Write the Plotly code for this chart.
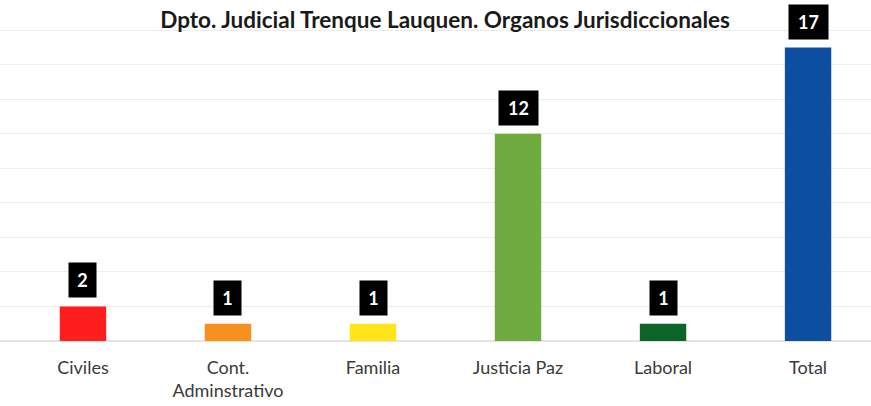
import plotly.graph_objects as go

categories = ["Civiles", "Cont.<br>Adminstrativo", "Familia", "Justicia Paz", "Laboral", "Total"]
values = [2, 1, 1, 12, 1, 17]
colors = ["#fe1e1e", "#f7901e", "#ffe41a", "#6fab3f", "#0c6428", "#0c4fa0"]
title_text = "Dpto. Judicial Trenque Lauquen. Organos Jurisdiccionales"

x_idx = list(range(len(categories)))

fig = go.Figure()
fig.add_trace(go.Bar(
    x=x_idx, y=values, marker=dict(color=colors, line=dict(width=0)),
    width=0.32, hoverinfo="skip",
))

for xi, v in zip(x_idx, values):
    fig.add_annotation(
        x=xi, y=v, text=f"<b>{v}</b>", showarrow=False,
        yanchor="bottom", yshift=8, bgcolor="#000000", borderpad=7,
        height=20, width=12 * len(str(v)) + 1,
        font=dict(family="Lato, sans-serif", size=18, color="#ffffff"),
    )

fig.update_layout(
    width=871, height=406,
    margin=dict(l=0, r=0, t=13, b=65),
    paper_bgcolor="#ffffff", plot_bgcolor="#ffffff",
    showlegend=False,
    title=dict(text=f"<b>{title_text}</b>", x=0.511, xanchor="center", y=0.951, yanchor="middle",
               font=dict(family="Lato, sans-serif", size=22.5, color="#1a1a1a")),
    xaxis=dict(tickmode="array", tickvals=x_idx, ticktext=categories,
               range=[-0.572, 5.434], showgrid=False, zeroline=False, showline=False,
               ticks="outside", ticklen=10, tickcolor="rgba(0,0,0,0)",
               tickfont=dict(family="Lato, sans-serif", size=18, color="#3a3a3a")),
    yaxis=dict(range=[0, 19], dtick=2, showticklabels=False, showgrid=True,
               gridcolor="#ececec", gridwidth=1, zeroline=True, zerolinecolor="#e4e4e4"),
)

fig.write_html("out.html", config={"displayModeBar": False},
               post_script="document.body.style.margin='0';")
